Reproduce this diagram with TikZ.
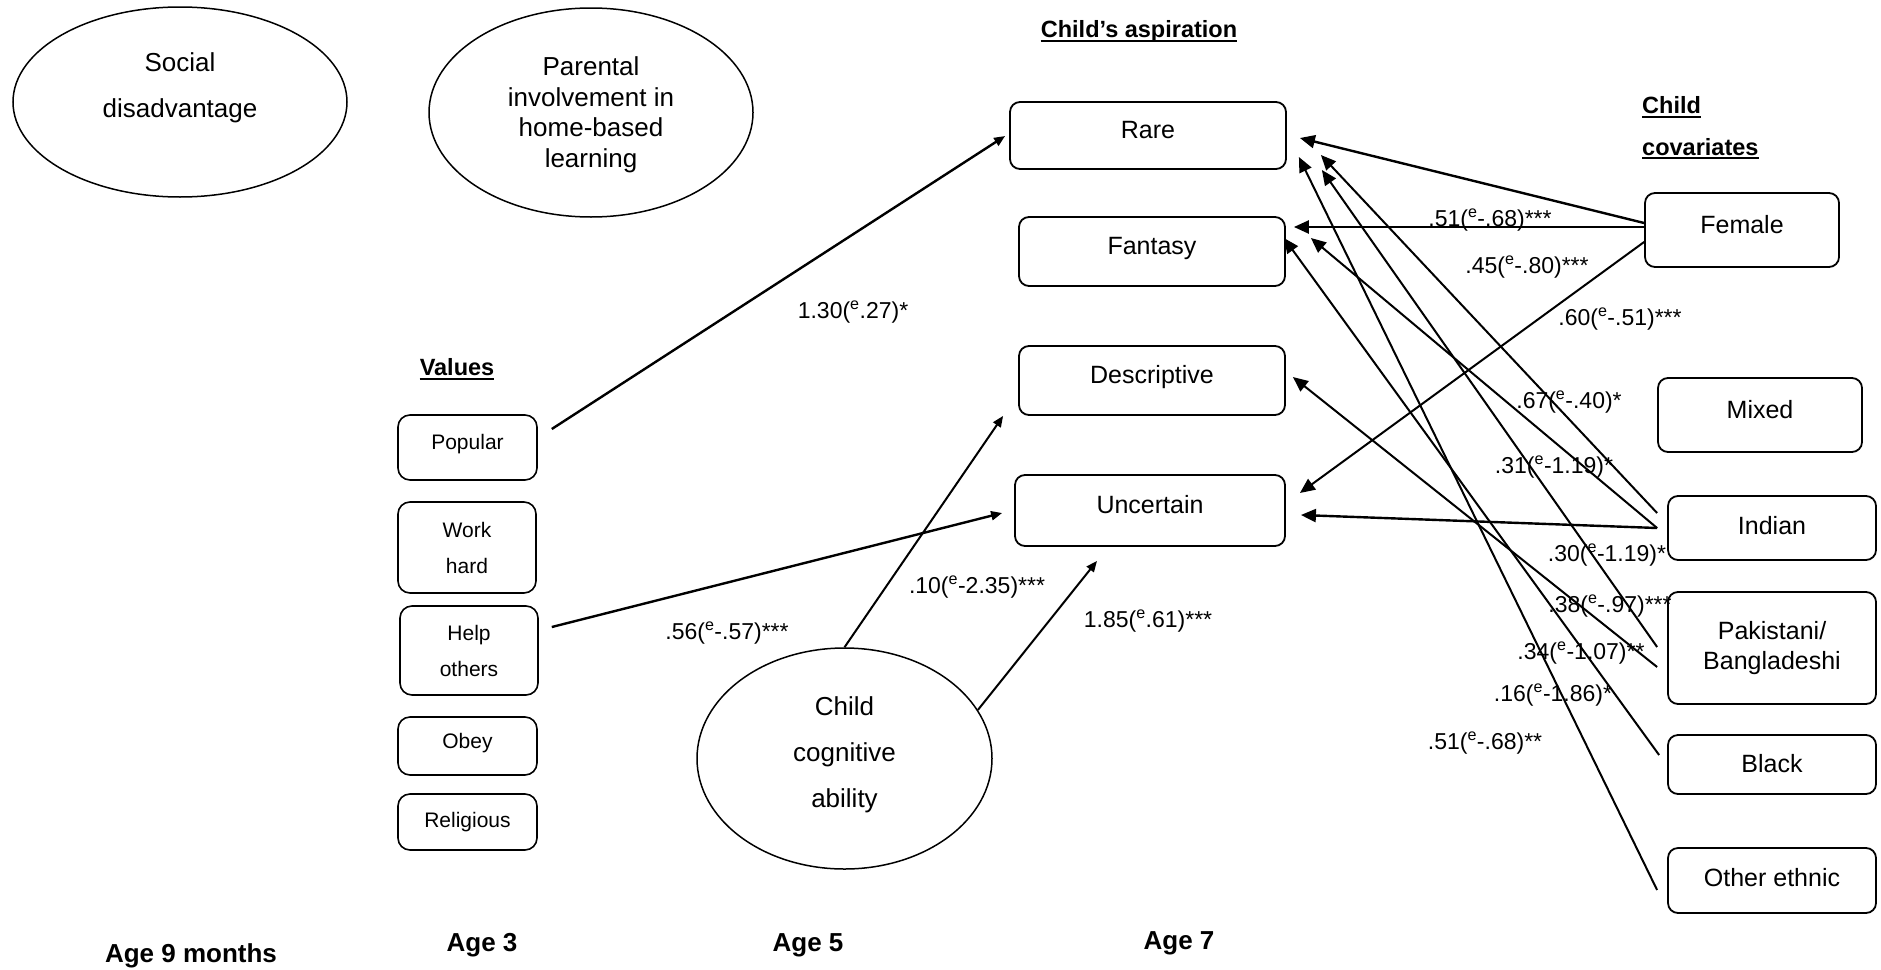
\documentclass[tikz,border=0pt]{standalone}
\usepackage{fontspec}
\setmainfont{Liberation Sans}
\usetikzlibrary{arrows.meta,shapes.geometric}
\newcommand\ee{\textsuperscript{e}}
\begin{document}
\begin{tikzpicture}[x=1pt,y=-1pt,
  every node/.style={inner sep=0pt},
  bigbox/.style={draw,rounded corners=10pt,line width=1.8pt,font=\fontsize{25}{30}\selectfont,text height=15pt,text depth=8.5pt},
  lowtext/.style={text height=18pt,text depth=5.5pt},
  bigbox2/.style={draw,rounded corners=10pt,line width=1.8pt,font=\fontsize{25}{30}\selectfont,align=center},
  smallbox/.style={draw,rounded corners=12pt,line width=1.6pt,font=\fontsize{21}{25}\selectfont,text height=12pt,text depth=7.5pt},
  smallbox2/.style={draw,rounded corners=12pt,line width=1.6pt,font=\fontsize{21}{36}\selectfont,align=center},
  oval/.style={ellipse,draw,line width=1.5pt,align=center},
  ovaltext/.style={align=center},
  lab/.style={font=\fontsize{23}{27}\selectfont},
  head/.style={font=\fontsize{23.5}{28}\bfseries},
  agelab/.style={font=\fontsize{26}{30}\bfseries,anchor=base},
  uline/.style={line width=1.6pt},
  tarr/.style={line width=2.4pt,-{Triangle[length=15pt,width=13pt]}},
  arr/.style={line width=2pt,-{Triangle[length=15pt,width=13pt]}},
  sarr/.style={line width=2.4pt,-{Triangle[length=11pt,width=9pt]}},
  sarr2/.style={line width=2pt,-{Triangle[length=11pt,width=9pt]}}
]
\useasboundingbox (0,0) rectangle (1881,969);

% ellipses
\node[oval,minimum width=334pt,minimum height=190pt] (sd) at (180,102) {};
\node[ovaltext,font=\fontsize{26}{46}\selectfont] (sdt) at (180,88) {Social\\disadvantage};
\node[oval,minimum width=324pt,minimum height=209pt] (par) at (591,112.5) {};
\node[ovaltext,font=\fontsize{26}{30.5}\selectfont] (part) at (591,115) {Parental\\involvement in\\home-based\\learning};
\node[oval,minimum width=295pt,minimum height=221pt] (cog) at (844.5,758.5) {};
\node[ovaltext,font=\fontsize{26}{46}\selectfont] (cogt) at (844.5,755) {Child\\cognitive\\ability};

% aspiration boxes
\node[bigbox,minimum width=276pt,minimum height=67pt] (rare) at (1148,135.5) {Rare};
\node[bigbox,minimum width=266pt,minimum height=69pt] (fan) at (1152,251.5) {Fantasy};
\node[bigbox,minimum width=266pt,minimum height=69pt] (desc) at (1152,380.5) {Descriptive};
\node[bigbox,minimum width=270pt,minimum height=71pt] (unc) at (1150,510.5) {Uncertain};

% values boxes
\node[smallbox,minimum width=139pt,minimum height=65pt] (pop) at (467.5,447.5) {Popular};
\node[smallbox2,minimum width=138pt,minimum height=91pt] (work) at (467,547.5) {Work\\hard};
\node[smallbox2,minimum width=138pt,minimum height=89pt] (help) at (469,650.5) {Help\\others};
\node[smallbox,minimum width=139pt,minimum height=58pt] (obey) at (467.5,746) {Obey};
\node[smallbox,minimum width=139pt,minimum height=56pt,text height=15pt,text depth=4.5pt] (rel) at (467.5,822) {Religious};

% covariate boxes
\node[bigbox,minimum width=194pt,minimum height=74pt] (fem) at (1742,230) {Female};
\node[bigbox,minimum width=204pt,minimum height=74pt] (mix) at (1760,415) {Mixed};
\node[bigbox,lowtext,minimum width=208pt,minimum height=64pt] (ind) at (1772,528) {Indian};
\node[bigbox2,minimum width=208pt,minimum height=112pt] (pak) at (1772,648) {Pakistani/\\Bangladeshi};
\node[bigbox,lowtext,text height=19pt,text depth=3.5pt,minimum width=208pt,minimum height=59pt] (blk) at (1772,764.5) {Black};
\node[bigbox,lowtext,minimum width=208pt,minimum height=65pt] (oth) at (1772,880.5) {Other ethnic};

% headings
\node[head,anchor=base] (hasp) at (1139,37) {Child’s aspiration};
\draw[uline] ([yshift=-4pt]hasp.base west) -- ([yshift=-4pt]hasp.base east);
\node[head,anchor=base west] (hchild) at (1642,113) {Child};
\draw[uline] ([yshift=-4pt]hchild.base west) -- ([yshift=-4pt]hchild.base east);
\node[head,anchor=base west] (hcov) at (1642,155) {covariates};
\draw[uline] ([yshift=-3pt]hcov.base west) -- ([yshift=-3pt]hcov.base east);
\node[head,anchor=base] (hval) at (457,375) {Values};
\draw[uline] ([yshift=-4pt]hval.base west) -- ([yshift=-4pt]hval.base east);

% ages
\node[agelab] (a9) at (191,962) {Age 9 months};
\node[agelab] (a3) at (482,951) {Age 3};
\node[agelab] (a5) at (808,951) {Age 5};
\node[agelab] (a7) at (1179,949) {Age 7};

% left arrows
\draw[sarr] ([shift={(14,-18.5)}]pop.east) -- ([shift={(-4,0.5)}]rare.west);
\draw[sarr] ([shift={(13,-23.5)}]help.east) -- ([shift={(-12,2.5)}]unc.west);
\draw[sarr2] (cog.north) -- ([shift={(-15,0)}]desc.south west);
\draw[sarr2] (cog.20) -- ([shift={(-53,14)}]unc.south);

% right arrows
\draw[tarr] ([shift={(0,-7)}]fem.west) -- ([shift={(13,2.5)}]rare.east);
\draw[tarr] ([shift={(0,-3)}]fem.west) -- ([shift={(8,-24.5)}]fan.east);
\draw[arr] ([shift={(0,12)}]fem.west) -- ([shift={(14,-17.5)}]unc.east);
\draw[arr] ([shift={(-10,-15)}]ind.west) -- ([shift={(34,19.5)}]rare.east);
\draw[arr] ([shift={(-10,0)}]ind.west) -- ([shift={(25,-13.5)}]fan.east);
\draw[tarr] ([shift={(-10,0)}]ind.west) -- ([shift={(15,4.5)}]unc.east);
\draw[arr] ([shift={(-10,-1)}]pak.west) -- ([shift={(35,34.5)}]rare.east);
\draw[arr] ([shift={(-10,19)}]pak.west) -- ([shift={(7,-3.5)}]desc.east);
\draw[arr] ([shift={(-8,-9.5)}]blk.west) -- ([shift={(-2,-13.5)}]fan.east);
\draw[arr] ([shift={(-10,9.5)}]oth.west) -- ([shift={(12,21.5)}]rare.east);

% labels
\node[lab] (l1) at (853,312) {1.30(\ee.27)*};
\node[lab] (l2) at (727,633) {.56(\ee-.57)***};
\node[lab] (l3) at (977,587) {.10(\ee-2.35)***};
\node[lab] (l4) at (1148,621) {1.85(\ee.61)***};
\node[lab] (l5) at (1490,220.5) {.51(\ee-.68)***};
\node[lab] (l6) at (1527,267.5) {.45(\ee-.80)***};
\node[lab] (l7) at (1620,319.5) {.60(\ee-.51)***};
\node[lab] (l8) at (1569,402) {.67(\ee-.40)*};
\node[lab] (l9) at (1554,467) {.31(\ee-1.19)*};
\node[lab] (l10) at (1607,555) {.30(\ee-1.19)*};
\node[lab] (l11) at (1610,606) {.38(\ee-.97)***};
\node[lab] (l12) at (1581,653) {.34(\ee-1.07)**};
\node[lab] (l13) at (1553,695) {.16(\ee-1.86)*};
\node[lab] (l14) at (1485,743) {.51(\ee-.68)**};
\end{tikzpicture}
\end{document}
